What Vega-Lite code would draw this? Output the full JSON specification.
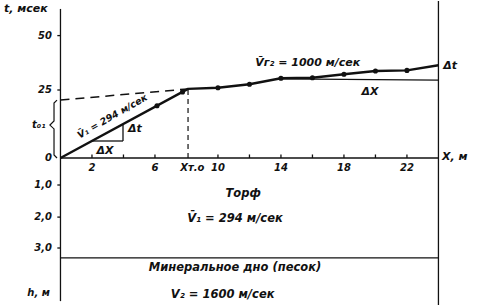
{
  "$schema": "https://vega.github.io/schema/vega-lite/v6.json",
  "padding": 0,
  "spacing": 0,
  "bounds": "flush",
  "background": "white",
  "config": {
    "view": {"stroke": null},
    "text": {"font": "DejaVu Sans", "fontStyle": "italic", "fontWeight": "bold", "fontSize": 10, "color": "#111", "baseline": "middle"},
    "rule": {"color": "#111", "strokeWidth": 1.3},
    "line": {"color": "#111"}
  },
  "datasets": {
    "segs": [
      {"x": 0, "x2": 0, "t": 0, "t2": 54.8},
      {"x": 24, "x2": 24, "t": 0, "t2": 57.72},
      {"x": 0, "x2": 24, "t": 0, "t2": 0},
      {"x": 2, "x2": 2, "t": 0, "t2": 1.3},
      {"x": 4, "x2": 4, "t": 0, "t2": 1.3},
      {"x": 6, "x2": 6, "t": 0, "t2": 1.3},
      {"x": 10, "x2": 10, "t": 0, "t2": 1.3},
      {"x": 12, "x2": 12, "t": 0, "t2": 1.3},
      {"x": 14, "x2": 14, "t": 0, "t2": 1.3},
      {"x": 16, "x2": 16, "t": 0, "t2": 1.3},
      {"x": 18, "x2": 18, "t": 0, "t2": 1.3},
      {"x": 20, "x2": 20, "t": 0, "t2": 1.3},
      {"x": 22, "x2": 22, "t": 0, "t2": 1.3},
      {"x": -0.2, "x2": 0, "t": 25, "t2": 25},
      {"x": -0.2, "x2": 0, "t": 45, "t2": 45},
      {"x": 2.0, "x2": 3.97, "t": 6.25, "t2": 6.25},
      {"x": 3.97, "x2": 3.97, "t": 6.25, "t2": 12.4},
      {"x": 14, "x2": 24, "t": 29.1, "t2": 28.6}
    ],
    "curve": [
      {"i": 0, "x": 0, "t": 0},
      {"i": 1, "x": 8.1, "t": 25.4},
      {"i": 2, "x": 10, "t": 25.85},
      {"i": 3, "x": 12, "t": 27.1},
      {"i": 4, "x": 14, "t": 29.3},
      {"i": 5, "x": 16, "t": 29.5},
      {"i": 6, "x": 18, "t": 30.8},
      {"i": 7, "x": 20, "t": 32.0},
      {"i": 8, "x": 22, "t": 32.2},
      {"i": 9, "x": 24, "t": 34.1}
    ],
    "dashline": [
      {"i": 0, "x": 0, "t": 21.3},
      {"i": 1, "x": 8.1, "t": 25.4}
    ],
    "dashv": [
      {"x": 8.1, "x2": 8.1, "t": 0, "t2": 25.4}
    ],
    "bracket": [
      {"i": 0, "x": -0.22, "t": 21.3},
      {"i": 1, "x": -0.41, "t": 20.2},
      {"i": 2, "x": -0.41, "t": 13.6},
      {"i": 3, "x": -0.67, "t": 12.1},
      {"i": 4, "x": -0.41, "t": 10.7},
      {"i": 5, "x": -0.41, "t": 1.1},
      {"i": 6, "x": -0.22, "t": 0}
    ],
    "dots": [
      {"x": 6.13, "t": 19.2},
      {"x": 7.75, "t": 24.3},
      {"x": 10, "t": 25.85},
      {"x": 12, "t": 27.1},
      {"x": 14, "t": 29.3},
      {"x": 16, "t": 29.5},
      {"x": 18, "t": 30.8},
      {"x": 20, "t": 32.0},
      {"x": 22, "t": 32.2}
    ],
    "labRight": [
      {"x": -0.54, "t": 45, "label": "50"},
      {"x": -0.54, "t": 25, "label": "25"},
      {"x": -0.54, "t": 0, "label": "0"},
      {"x": -0.95, "t": 12.1, "label": "t₀₁"}
    ],
    "labLeft": [
      {"x": -3.59, "t": 54.8, "label": "t, мсек"},
      {"x": 24.3, "t": 33.8, "label": "Δt"},
      {"x": 24.22, "t": 0.3, "label": "X, м"},
      {"x": 4.29, "t": 10.7, "label": "Δt"}
    ],
    "labCenter": [
      {"x": 2.83, "t": 2.6, "label": "ΔX"},
      {"x": 19.65, "t": 24.3, "label": "ΔX"},
      {"x": 15.7, "t": 34.9, "label": "V̄г₂ = 1000 м/сек"}
    ],
    "labRot": [
      {"x": 3.3, "t": 15.3, "label": "V̄₁ = 294 м/сек"}
    ],
    "bsegs": [
      {"x": 0, "x2": 0, "d": 0, "d2": 4.77},
      {"x": 24, "x2": 24, "d": 0, "d2": 4.93},
      {"x": 0, "x2": 24, "d": 3.33, "d2": 3.33},
      {"x": -0.2, "x2": 0, "d": 0.9, "d2": 0.9},
      {"x": -0.2, "x2": 0, "d": 1.97, "d2": 1.97},
      {"x": -0.2, "x2": 0, "d": 3.0, "d2": 3.0}
    ],
    "bRight": [
      {"x": -0.54, "d": 0.9, "label": "1,0"},
      {"x": -0.54, "d": 1.97, "label": "2,0"},
      {"x": -0.54, "d": 3.0, "label": "3,0"},
      {"x": -0.67, "d": 4.5, "label": "h, м"}
    ],
    "bTicks": [
      {"x": 2, "d": 0.33, "label": "2"},
      {"x": 6, "d": 0.33, "label": "6"},
      {"x": 8.37, "d": 0.33, "label": "Xт.о"},
      {"x": 10, "d": 0.33, "label": "10"},
      {"x": 14, "d": 0.33, "label": "14"},
      {"x": 18, "d": 0.33, "label": "18"},
      {"x": 22, "d": 0.33, "label": "22"}
    ],
    "bCenter": [
      {"x": 11.6, "d": 1.2, "label": "Торф"},
      {"x": 11.08, "d": 2.03, "label": "V̄₁ = 294 м/сек"},
      {"x": 11.08, "d": 3.67, "label": "Минеральное дно (песок)"},
      {"x": 10.3, "d": 4.57, "label": "V₂ = 1600 м/сек"}
    ]
  },
  "vconcat": [
    {
      "width": 486,
      "height": 157,
      "layer": [
        {
          "data": {"name": "segs"},
          "mark": {"type": "rule"},
          "encoding": {
            "x": {"field": "x", "type": "quantitative", "scale": {"domain": [-3.84, 27.02], "nice": false, "zero": false}, "axis": null},
            "x2": {"field": "x2"},
            "y": {"field": "t", "type": "quantitative", "scale": {"domain": [0, 57.72], "nice": false, "zero": false}, "axis": null},
            "y2": {"field": "t2"}
          }
        },
        {
          "data": {"name": "dashv"},
          "mark": {"type": "rule", "strokeDash": [5, 4], "strokeWidth": 1.2},
          "encoding": {
            "x": {"field": "x", "type": "quantitative", "scale": {"domain": [-3.84, 27.02], "nice": false, "zero": false}, "axis": null},
            "x2": {"field": "x2"},
            "y": {"field": "t", "type": "quantitative", "scale": {"domain": [0, 57.72], "nice": false, "zero": false}, "axis": null},
            "y2": {"field": "t2"}
          }
        },
        {
          "data": {"name": "dashline"},
          "mark": {"type": "line", "strokeDash": [9, 6], "strokeWidth": 1.5},
          "encoding": {
            "x": {"field": "x", "type": "quantitative", "scale": {"domain": [-3.84, 27.02], "nice": false, "zero": false}, "axis": null},
            "y": {"field": "t", "type": "quantitative", "scale": {"domain": [0, 57.72], "nice": false, "zero": false}, "axis": null},
            "order": {"field": "i", "type": "quantitative"}
          }
        },
        {
          "data": {"name": "bracket"},
          "mark": {"type": "line", "strokeWidth": 1.2},
          "encoding": {
            "x": {"field": "x", "type": "quantitative", "scale": {"domain": [-3.84, 27.02], "nice": false, "zero": false}, "axis": null},
            "y": {"field": "t", "type": "quantitative", "scale": {"domain": [0, 57.72], "nice": false, "zero": false}, "axis": null},
            "order": {"field": "i", "type": "quantitative"}
          }
        },
        {
          "data": {"name": "curve"},
          "mark": {"type": "line", "strokeWidth": 2.4, "strokeJoin": "round"},
          "encoding": {
            "x": {"field": "x", "type": "quantitative", "scale": {"domain": [-3.84, 27.02], "nice": false, "zero": false}, "axis": null},
            "y": {"field": "t", "type": "quantitative", "scale": {"domain": [0, 57.72], "nice": false, "zero": false}, "axis": null},
            "order": {"field": "i", "type": "quantitative"}
          }
        },
        {
          "data": {"name": "dots"},
          "mark": {"type": "circle", "size": 26, "color": "#111", "opacity": 1},
          "encoding": {
            "x": {"field": "x", "type": "quantitative", "scale": {"domain": [-3.84, 27.02], "nice": false, "zero": false}, "axis": null},
            "y": {"field": "t", "type": "quantitative", "scale": {"domain": [0, 57.72], "nice": false, "zero": false}, "axis": null}
          }
        },
        {
          "data": {"name": "labRight"},
          "mark": {"type": "text", "align": "right"},
          "encoding": {
            "x": {"field": "x", "type": "quantitative", "scale": {"domain": [-3.84, 27.02], "nice": false, "zero": false}, "axis": null},
            "y": {"field": "t", "type": "quantitative", "scale": {"domain": [0, 57.72], "nice": false, "zero": false}, "axis": null},
            "text": {"field": "label"}
          }
        },
        {
          "data": {"name": "labLeft"},
          "mark": {"type": "text", "align": "left", "fontSize": 11},
          "encoding": {
            "x": {"field": "x", "type": "quantitative", "scale": {"domain": [-3.84, 27.02], "nice": false, "zero": false}, "axis": null},
            "y": {"field": "t", "type": "quantitative", "scale": {"domain": [0, 57.72], "nice": false, "zero": false}, "axis": null},
            "text": {"field": "label"}
          }
        },
        {
          "data": {"name": "labCenter"},
          "mark": {"type": "text", "align": "center", "fontSize": 11},
          "encoding": {
            "x": {"field": "x", "type": "quantitative", "scale": {"domain": [-3.84, 27.02], "nice": false, "zero": false}, "axis": null},
            "y": {"field": "t", "type": "quantitative", "scale": {"domain": [0, 57.72], "nice": false, "zero": false}, "axis": null},
            "text": {"field": "label"}
          }
        },
        {
          "data": {"name": "labRot"},
          "mark": {"type": "text", "align": "center", "angle": -30, "fontSize": 9.5},
          "encoding": {
            "x": {"field": "x", "type": "quantitative", "scale": {"domain": [-3.84, 27.02], "nice": false, "zero": false}, "axis": null},
            "y": {"field": "t", "type": "quantitative", "scale": {"domain": [0, 57.72], "nice": false, "zero": false}, "axis": null},
            "text": {"field": "label"}
          }
        }
      ]
    },
    {
      "width": 486,
      "height": 148,
      "layer": [
        {
          "data": {"name": "bsegs"},
          "mark": {"type": "rule"},
          "encoding": {
            "x": {"field": "x", "type": "quantitative", "scale": {"domain": [-3.84, 27.02], "nice": false, "zero": false}, "axis": null},
            "x2": {"field": "x2"},
            "y": {"field": "d", "type": "quantitative", "scale": {"domain": [0, 4.933], "nice": false, "zero": false, "reverse": true}, "axis": null},
            "y2": {"field": "d2"}
          }
        },
        {
          "data": {"name": "bRight"},
          "mark": {"type": "text", "align": "right"},
          "encoding": {
            "x": {"field": "x", "type": "quantitative", "scale": {"domain": [-3.84, 27.02], "nice": false, "zero": false}, "axis": null},
            "y": {"field": "d", "type": "quantitative", "scale": {"domain": [0, 4.933], "nice": false, "zero": false, "reverse": true}, "axis": null},
            "text": {"field": "label"}
          }
        },
        {
          "data": {"name": "bTicks"},
          "mark": {"type": "text", "align": "center"},
          "encoding": {
            "x": {"field": "x", "type": "quantitative", "scale": {"domain": [-3.84, 27.02], "nice": false, "zero": false}, "axis": null},
            "y": {"field": "d", "type": "quantitative", "scale": {"domain": [0, 4.933], "nice": false, "zero": false, "reverse": true}, "axis": null},
            "text": {"field": "label"}
          }
        },
        {
          "data": {"name": "bCenter"},
          "mark": {"type": "text", "align": "center", "fontSize": 11.5},
          "encoding": {
            "x": {"field": "x", "type": "quantitative", "scale": {"domain": [-3.84, 27.02], "nice": false, "zero": false}, "axis": null},
            "y": {"field": "d", "type": "quantitative", "scale": {"domain": [0, 4.933], "nice": false, "zero": false, "reverse": true}, "axis": null},
            "text": {"field": "label"}
          }
        }
      ]
    }
  ]
}
